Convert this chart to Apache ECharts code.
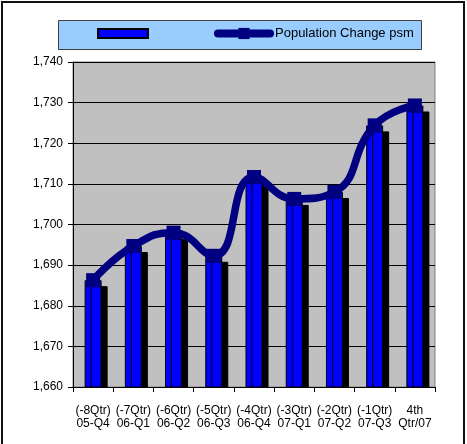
<!DOCTYPE html>
<html>
<head>
<meta charset="utf-8">
<script src="https://cdn.jsdelivr.net/npm/echarts@6/dist/echarts.min.js"></script>
<style>
html,body{margin:0;padding:0;background:#fff;}
#c{width:467px;height:444px;}
</style>
</head>
<body>
<div id="c"></div>
<script>
var categories = ['(-8Qtr)\n05-Q4','(-7Qtr)\n06-Q1','(-6Qtr)\n06-Q2','(-5Qtr)\n06-Q3','(-4Qtr)\n06-Q4','(-3Qtr)\n07-Q1','(-2Qtr)\n07-Q2','(-1Qtr)\n07-Q3','4th\nQtr/07'];
var barValues = [1686.3, 1694.7, 1698.0, 1692.3, 1711.7, 1706.3, 1708.0, 1724.4, 1729.3];
var lineValues = [1686.3, 1694.7, 1698.0, 1692.3, 1711.7, 1706.3, 1708.0, 1724.4, 1729.3];
var lineName = 'Population Change psm';
var barName = ' ';

var chart = echarts.init(document.getElementById('c'), null, {renderer:'canvas'});
var font = 'Liberation Sans, Arial, sans-serif';
chart.setOption({
  animation: false,
  backgroundColor: '#ffffff',
  graphic: [
    {type:'rect', z:0, shape:{x:2, y:2, width:462, height:470}, style:{fill:'none', stroke:'#111', lineWidth:2}},
    {type:'rect', z:0, shape:{x:58.5, y:20.5, width:363, height:29}, style:{fill:'#99CCFF', stroke:'#404040', lineWidth:1}},
    {type:'rect', z:5, shape:{x:74, y:387.5, width:362, height:8}, style:{fill:'#ffffff'}}
  ],
  legend: [
    {data:[{name:barName, icon:'rect'}], left:92, top:23, itemWidth:50, itemHeight:9, formatter:function(){return '';},
     itemStyle:{color:'#0000FF', borderColor:'#000', borderWidth:2, shadowColor:'transparent', shadowOffsetX:0, shadowOffsetY:0}},
    {data:[lineName], left:209, top:22, itemWidth:52, itemHeight:14,
     lineStyle:{width:8, cap:'round', color:'#000080'},
     textStyle:{fontFamily:font, fontSize:13, color:'#000'}}
  ],
  grid: {left:73, right:32, top:62, bottom:57, show:true, backgroundColor:'#C0C0C0', borderColor:'#808080', borderWidth:1},
  xAxis: {
    type:'category', data:categories, z:10,
    axisLine:{lineStyle:{color:'#000', width:1}},
    axisTick:{show:true, length:5, lineStyle:{color:'#000'}},
    axisLabel:{fontFamily:font, fontSize:12, color:'#000', margin:17, lineHeight:13, interval:0}
  },
  yAxis: {
    type:'value', min:1660, max:1740, interval:10,
    axisLine:{show:true, lineStyle:{color:'#000', width:1}},
    axisTick:{show:true, length:5, lineStyle:{color:'#000'}},
    axisLabel:{fontFamily:font, fontSize:12, color:'#000', margin:10,
      formatter:function(v){return echarts.format.addCommas(v);}},
    splitLine:{lineStyle:{color:'#000', width:1}}
  },
  series: [
    {type:'bar', name:barName, data:barValues, barWidth:17, z:2,
     itemStyle:{color:'#0000FF', borderColor:'#000', borderWidth:1, shadowColor:'#000', shadowOffsetX:6, shadowOffsetY:6, shadowBlur:0}},
    {type:'line', name:lineName, data:lineValues, smooth:true, z:8,
     symbol:'rect', symbolSize:14,
     lineStyle:{color:'#000080', width:7.5, cap:'round', join:'round'},
     itemStyle:{color:'#000080'}}
  ]
});
</script>
</body>
</html>
